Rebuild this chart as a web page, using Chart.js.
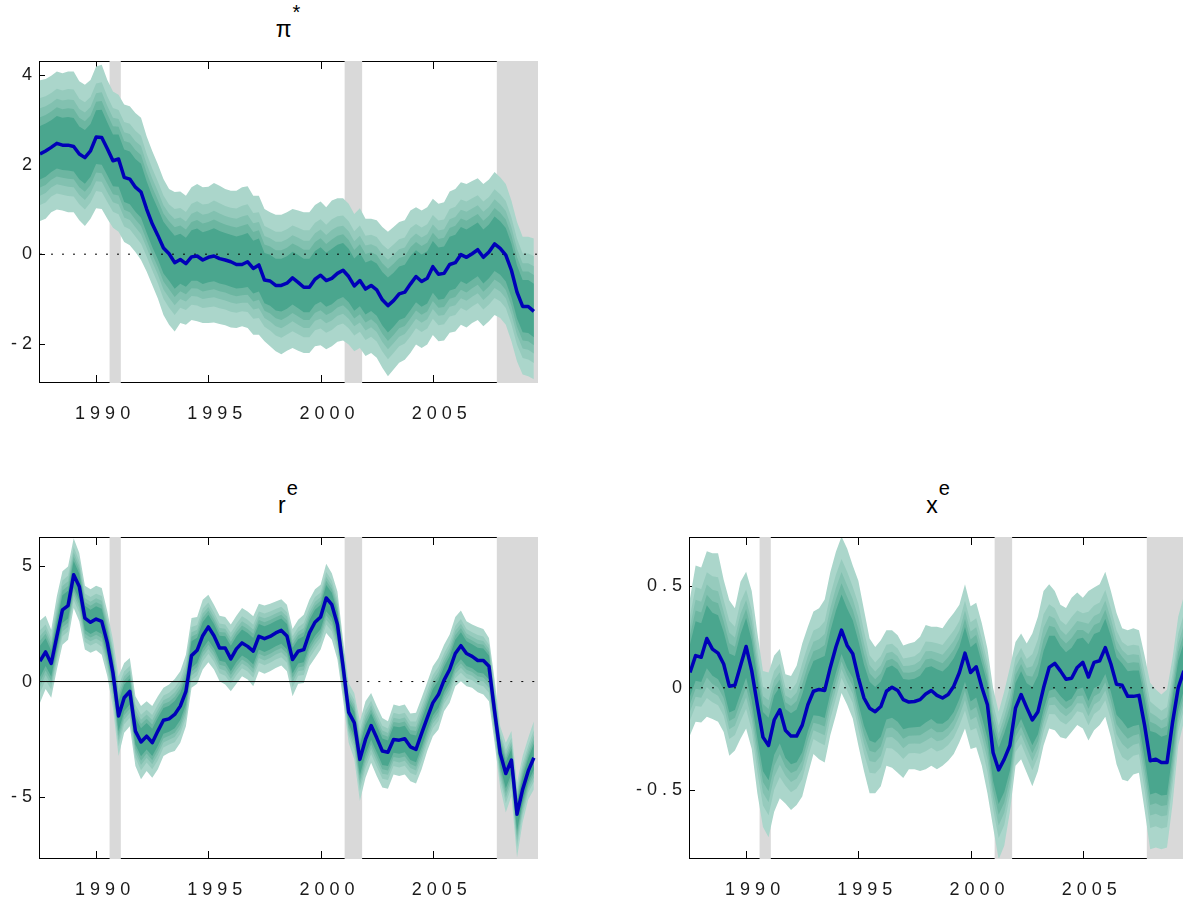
<!DOCTYPE html>
<html>
<head>
<meta charset="utf-8">
<script src="https://cdn.jsdelivr.net/npm/chart.js@4.4.1/dist/chart.umd.min.js"></script>
<style>
  body { margin: 0; width: 1183px; height: 905px; overflow: hidden; position: relative; background: #fff; }
  canvas { position: absolute; }
  .ttl { position: absolute; transform: translateX(-50%); font-family: "Liberation Sans", Arial, sans-serif;
         font-size: 23px; line-height: 22px; color: #000; white-space: nowrap; }
  .ttl span { position: relative; top: -18px; font-size: 20px; margin-left: 1px; }
</style>
</head>
<body>
<div class="ttl" style="left:288px; top:18px">π<span>*</span></div>
<div class="ttl" style="left:288px; top:494px">r<span>e</span></div>
<div class="ttl" style="left:938px; top:494px">x<span>e</span></div>
<canvas id="piChart" width="560" height="429" style="left:0; top:0"></canvas>
<canvas id="rChart" width="560" height="429" style="left:0; top:476px"></canvas>
<canvas id="xChart" width="610" height="429" style="left:600px; top:476px"></canvas>
<script>
// quarterly data, 1987Q3 .. 2009Q3
const startYear = 1987.5;
const quarterStep = 0.25;
const xMin = 1987.5, xMax = 2009.64;
const xTicks = [1990, 1995, 2000, 2005];

// NBER recessions (shaded)
const recessions = [[1990.6, 1991.1], [2001.07, 2001.85], [2007.85, 2009.64]];

// pi* : median and outer band
const piMedian = [2.24, 2.31, 2.39, 2.48, 2.44, 2.44, 2.41, 2.24, 2.16, 2.31, 2.62, 2.61, 2.36, 2.09, 2.13, 1.72, 1.68, 1.50, 1.39, 1.01,
  0.68, 0.42, 0.14, 0.01, -0.19, -0.12, -0.21, -0.06, -0.04, -0.13, -0.07, -0.04, -0.10, -0.13, -0.17, -0.23, -0.23, -0.17, -0.32, -0.24,
  -0.58, -0.60, -0.70, -0.70, -0.65, -0.53, -0.63, -0.74, -0.74, -0.56, -0.47, -0.59, -0.54, -0.43, -0.36, -0.50, -0.71, -0.59, -0.78, -0.70,
  -0.80, -1.02, -1.15, -1.04, -0.89, -0.85, -0.67, -0.50, -0.61, -0.54, -0.28, -0.45, -0.43, -0.23, -0.19, -0.01, -0.07, 0.01, 0.10, -0.07,
  0.05, 0.23, 0.13, -0.02, -0.36, -0.85, -1.17, -1.17, -1.28];
const piUpper = [3.89, 3.92, 3.99, 4.09, 4.05, 4.09, 4.09, 3.87, 3.79, 3.90, 4.20, 4.24, 3.90, 3.64, 3.57, 3.35, 3.31, 3.16, 3.05, 2.64,
  2.31, 2.01, 1.68, 1.46, 1.39, 1.40, 1.31, 1.50, 1.57, 1.50, 1.51, 1.59, 1.53, 1.46, 1.42, 1.42, 1.50, 1.52, 1.31, 1.31,
  1.01, 0.94, 0.88, 0.88, 0.94, 1.01, 0.98, 0.94, 0.94, 1.10, 1.18, 1.05, 1.20, 1.25, 1.25, 1.13, 0.90, 1.03, 0.79, 0.79,
  0.76, 0.61, 0.50, 0.61, 0.72, 0.76, 0.98, 1.05, 0.98, 1.05, 1.24, 1.13, 1.16, 1.40, 1.46, 1.61, 1.57, 1.64, 1.70, 1.57,
  1.67, 1.84, 1.72, 1.57, 1.20, 0.72, 0.39, 0.39, 0.35];
const piLower = [0.74, 0.79, 0.94, 1.00, 0.98, 0.94, 0.94, 0.76, 0.63, 0.79, 1.03, 1.01, 0.79, 0.59, 0.50, 0.27, 0.20, 0.05, -0.13, -0.39,
  -0.69, -0.99, -1.36, -1.58, -1.73, -1.54, -1.58, -1.47, -1.50, -1.54, -1.54, -1.53, -1.56, -1.59, -1.64, -1.65, -1.61, -1.65, -1.80, -1.80,
  -1.95, -2.06, -2.17, -2.24, -2.16, -2.10, -2.16, -2.21, -2.21, -2.06, -2.04, -2.13, -2.06, -1.96, -1.93, -2.02, -2.17, -2.10, -2.28, -2.21,
  -2.32, -2.54, -2.73, -2.58, -2.43, -2.36, -2.21, -2.02, -2.10, -2.02, -1.81, -1.95, -1.93, -1.76, -1.73, -1.58, -1.64, -1.54, -1.47, -1.61,
  -1.50, -1.36, -1.43, -1.58, -1.95, -2.40, -2.69, -2.73, -2.80];
const piTicks = [-2, 0, 2, 4];

// r^e
const rMedian = [0.88, 1.28, 0.78, 1.95, 3.10, 3.28, 4.61, 4.11, 2.74, 2.56, 2.70, 2.60, 1.67, 0.37, -1.49, -0.70, -0.42, -2.14, -2.61, -2.36,
  -2.64, -2.14, -1.67, -1.61, -1.42, -1.06, -0.42, 1.12, 1.35, 1.98, 2.36, 1.98, 1.45, 1.45, 0.98, 1.41, 1.67, 1.52, 1.31, 1.95,
  1.85, 1.95, 2.10, 2.21, 1.97, 0.95, 1.31, 1.38, 2.10, 2.56, 2.79, 3.61, 3.32, 2.46, 0.66, -1.32, -1.78, -3.36, -2.50, -1.90,
  -2.43, -3.00, -3.05, -2.50, -2.53, -2.47, -2.82, -2.93, -2.24, -1.57, -0.92, -0.56, 0.06, 0.52, 1.21, 1.55, 1.21, 1.09, 0.91, 0.91,
  0.66, -1.28, -3.10, -3.97, -3.39, -5.73, -4.66, -3.86, -3.29];
const rUpper = [2.64, 2.84, 2.24, 3.68, 4.76, 4.97, 6.19, 5.55, 4.14, 3.99, 4.14, 4.04, 3.03, 1.81, 0.23, 0.80, 1.02, -0.63, -1.06, -0.85,
  -1.06, -0.63, -0.27, -0.13, 0.11, 0.45, 1.16, 2.74, 2.79, 3.53, 3.75, 3.32, 2.84, 2.79, 2.46, 2.84, 3.18, 3.03, 2.82, 3.36,
  3.28, 3.36, 3.46, 3.56, 3.32, 2.27, 2.67, 2.89, 3.53, 3.99, 4.18, 5.09, 4.68, 3.89, 1.81, -0.06, -0.49, -1.71, -0.85, -0.49,
  -1.06, -1.57, -1.71, -0.99, -1.06, -0.99, -1.38, -1.35, -0.70, -0.03, 0.66, 1.02, 1.59, 2.03, 2.79, 3.07, 2.60, 2.46, 2.36, 2.27,
  1.88, 0.09, -1.93, -2.64, -2.14, -4.37, -3.22, -2.43, -1.71];
const rLower = [-0.92, -0.32, -0.70, 0.52, 1.59, 1.81, 3.18, 2.60, 1.38, 1.24, 1.35, 1.16, 0.23, -1.14, -3.22, -2.21, -1.93, -3.65, -4.22, -3.86,
  -4.15, -3.79, -3.22, -3.07, -3.00, -2.64, -1.93, -0.27, -0.09, 0.52, 0.83, 0.52, 0.01, -0.13, -0.42, -0.09, 0.23, 0.09, -0.20, 0.45,
  0.34, 0.45, 0.59, 0.69, 0.45, -0.63, -0.09, -0.06, 0.66, 1.02, 1.38, 2.10, 1.81, 0.95, -0.78, -2.64, -3.36, -5.16, -4.15, -3.51,
  -4.08, -4.58, -4.63, -4.01, -4.08, -4.01, -4.30, -4.40, -3.79, -3.00, -2.36, -2.07, -1.28, -0.92, -0.20, 0.01, -0.20, -0.27, -0.46, -0.56,
  -0.85, -2.64, -4.58, -5.66, -4.94, -7.60, -6.09, -5.09, -4.66];
const rTicks = [-5, 0, 5];

// x^e
const xMedian = [0.075, 0.158, 0.150, 0.242, 0.190, 0.170, 0.117, 0.008, 0.013, 0.108, 0.203, 0.083, -0.083, -0.242, -0.283, -0.158, -0.108, -0.208, -0.237, -0.237,
  -0.183, -0.083, -0.017, -0.008, -0.013, 0.100, 0.200, 0.283, 0.208, 0.167, 0.050, -0.050, -0.100, -0.117, -0.092, -0.017, 0.003, -0.013, -0.058, -0.070,
  -0.067, -0.058, -0.030, -0.013, -0.037, -0.050, -0.033, 0.008, 0.075, 0.170, 0.075, 0.103, 0.003, -0.083, -0.317, -0.403, -0.350, -0.283, -0.100, -0.033,
  -0.097, -0.158, -0.117, 0.000, 0.100, 0.120, 0.083, 0.042, 0.047, 0.100, 0.125, 0.053, 0.125, 0.133, 0.197, 0.117, 0.017, 0.013, -0.042, -0.042,
  -0.037, -0.183, -0.358, -0.350, -0.367, -0.367, -0.167, 0.000, 0.083];
const xUpper = [0.44, 0.60, 0.59, 0.67, 0.66, 0.66, 0.53, 0.43, 0.39, 0.52, 0.57, 0.475, 0.27, 0.083, 0.075, 0.158, 0.19, 0.067, 0.058, 0.108,
  0.217, 0.30, 0.375, 0.39, 0.433, 0.567, 0.667, 0.742, 0.683, 0.60, 0.525, 0.383, 0.242, 0.20, 0.233, 0.283, 0.283, 0.258, 0.208, 0.217,
  0.225, 0.25, 0.308, 0.30, 0.30, 0.292, 0.333, 0.367, 0.408, 0.508, 0.40, 0.417, 0.317, 0.192, 0.0, -0.117, -0.017, 0.10, 0.225, 0.267,
  0.217, 0.267, 0.35, 0.475, 0.508, 0.475, 0.408, 0.392, 0.442, 0.467, 0.442, 0.475, 0.492, 0.508, 0.57, 0.475, 0.367, 0.292, 0.283, 0.292,
  0.283, 0.158, 0.025, -0.008, -0.033, -0.008, 0.15, 0.35, 0.45];
const xLower = [-0.233, -0.167, -0.17, -0.142, -0.153, -0.167, -0.217, -0.333, -0.308, -0.25, -0.20, -0.30, -0.517, -0.683, -0.733, -0.608, -0.542, -0.567, -0.60, -0.575,
  -0.533, -0.425, -0.325, -0.35, -0.367, -0.233, -0.133, -0.025, -0.083, -0.15, -0.283, -0.408, -0.517, -0.517, -0.483, -0.383, -0.392, -0.417, -0.442, -0.40,
  -0.40, -0.408, -0.40, -0.383, -0.40, -0.383, -0.358, -0.325, -0.267, -0.20, -0.30, -0.292, -0.383, -0.517, -0.683, -0.842, -0.775, -0.608, -0.383, -0.35,
  -0.417, -0.483, -0.408, -0.283, -0.20, -0.208, -0.242, -0.25, -0.217, -0.183, -0.20, -0.258, -0.208, -0.183, -0.142, -0.242, -0.375, -0.45, -0.458, -0.425,
  -0.417, -0.60, -0.792, -0.783, -0.792, -0.783, -0.567, -0.283, -0.167];
const xgTicks = [-0.5, 0, 0.5];

// fan: share of the outer band width for each shade, outer -> inner
const bandShares = [1, 0.76, 0.62, 0.5, 0.38];
const bandColors = ['#abd6cb', '#96cbbd', '#82c1b0', '#6cb6a1', '#4aa68e'];

const FONT = '"Liberation Sans", Arial, sans-serif';

function toPoints(values) {
  return values.map((v, i) => ({ x: startYear + i * quarterStep, y: v }));
}

function frameAndShading(yTicks) {
  return {
    id: 'frameAndShading',
    beforeDraw(chart) { chart.ctx.letterSpacing = '5px'; },
    beforeDatasetsDraw(chart) {
      const { ctx, chartArea: a, scales: { x, y } } = chart;
      ctx.save();
      ctx.strokeStyle = '#000';
      ctx.lineWidth = 1;
      ctx.strokeRect(a.left - 0.5, a.top - 0.5, a.right - a.left + 1, a.bottom - a.top + 1);
      ctx.beginPath();
      xTicks.forEach(v => {
        const px = Math.round(x.getPixelForValue(v)) + 0.5;
        ctx.moveTo(px, a.bottom); ctx.lineTo(px, a.bottom - 7);
        ctx.moveTo(px, a.top); ctx.lineTo(px, a.top + 7);
      });
      yTicks.forEach(v => {
        const py = Math.round(y.getPixelForValue(v)) + 0.5;
        ctx.moveTo(a.left, py); ctx.lineTo(a.left + 5, py);
        ctx.moveTo(a.right, py); ctx.lineTo(a.right - 5, py);
      });
      ctx.stroke();
      // recession bars
      ctx.fillStyle = '#d9d9d9';
      recessions.forEach(([s, e]) => {
        const x0 = x.getPixelForValue(s);
        const x1 = e >= xMax ? a.right + 1 : x.getPixelForValue(e);
        ctx.fillRect(x0, a.top - 1, x1 - x0, a.bottom - a.top + 2);
      });
      ctx.restore();
    }
  };
}

function fanChart(id, median, upper, lower, yMin, yMax, yTicks, solidZeroUntil, axisWidth) {
  const datasets = [];
  bandShares.forEach((share, k) => {
    const hi = median.map((m, i) => m + share * (upper[i] - m));
    const lo = median.map((m, i) => m + share * (lower[i] - m));
    const common = { borderWidth: 0, borderColor: 'rgba(0,0,0,0)', pointRadius: 0, tension: 0, order: 20 - 2 * k };
    datasets.push({ ...common, data: toPoints(hi), fill: '+1', backgroundColor: bandColors[k] });
    datasets.push({ ...common, data: toPoints(lo), fill: false });
  });
  const zeroPts = solidZeroUntil
    ? [{ x: xMin, y: 0 }, { x: solidZeroUntil, y: 0 }, { x: xMax, y: 0 }]
    : [{ x: xMin, y: 0 }, { x: xMax, y: 0 }];
  datasets.push({
    data: zeroPts, borderColor: '#000', borderWidth: 1, pointRadius: 0, fill: false, order: 1,
    borderDash: [2, 9],
    segment: { borderDash: c => (solidZeroUntil && c.p0DataIndex === 0) ? [] : [2, 9] }
  });
  datasets.push({
    data: toPoints(median), borderColor: '#0000b8', borderWidth: 3.5, pointRadius: 0, fill: false,
    tension: 0, borderJoinStyle: 'round', order: 0
  });

  const tickFont = { family: FONT, size: 18 };
  new Chart(document.getElementById(id).getContext('2d'), {
    type: 'line',
    data: { datasets },
    options: {
      responsive: false,
      animation: false,
      events: [],
      layout: { padding: { top: 62, right: 23, left: 0, bottom: 0 }, autoPadding: false },
      plugins: { legend: { display: false }, tooltip: { enabled: false }, title: { display: false } },
      scales: {
        x: {
          type: 'linear', min: xMin, max: xMax,
          grid: { display: false, drawTicks: false }, border: { display: false },
          afterBuildTicks: s => { s.ticks = xTicks.map(v => ({ value: v })); },
          afterFit: s => { s.height = 47; },
          ticks: { font: tickFont, color: '#1a1a1a', padding: 21, labelOffset: 9, maxRotation: 0, autoSkip: false,
                   callback: v => String(v) }
        },
        y: {
          type: 'linear', min: yMin, max: yMax,
          grid: { display: false, drawTicks: false }, border: { display: false },
          afterBuildTicks: s => { s.ticks = yTicks.map(v => ({ value: v })); },
          afterFit: s => { s.width = axisWidth; },
          ticks: { font: tickFont, color: '#1a1a1a', padding: 3, callback: v => String(v) }
        }
      }
    },
    plugins: [frameAndShading(yTicks)]
  });
}

fanChart('piChart', piMedian, piUpper, piLower, -2.86, 4.3, piTicks, null, 40);
fanChart('rChart', rMedian, rUpper, rLower, -7.62, 6.2, rTicks, 2001.1, 40);
fanChart('xChart', xMedian, xUpper, xLower, -0.835, 0.735, xgTicks, null, 90);
</script>
</body>
</html>
